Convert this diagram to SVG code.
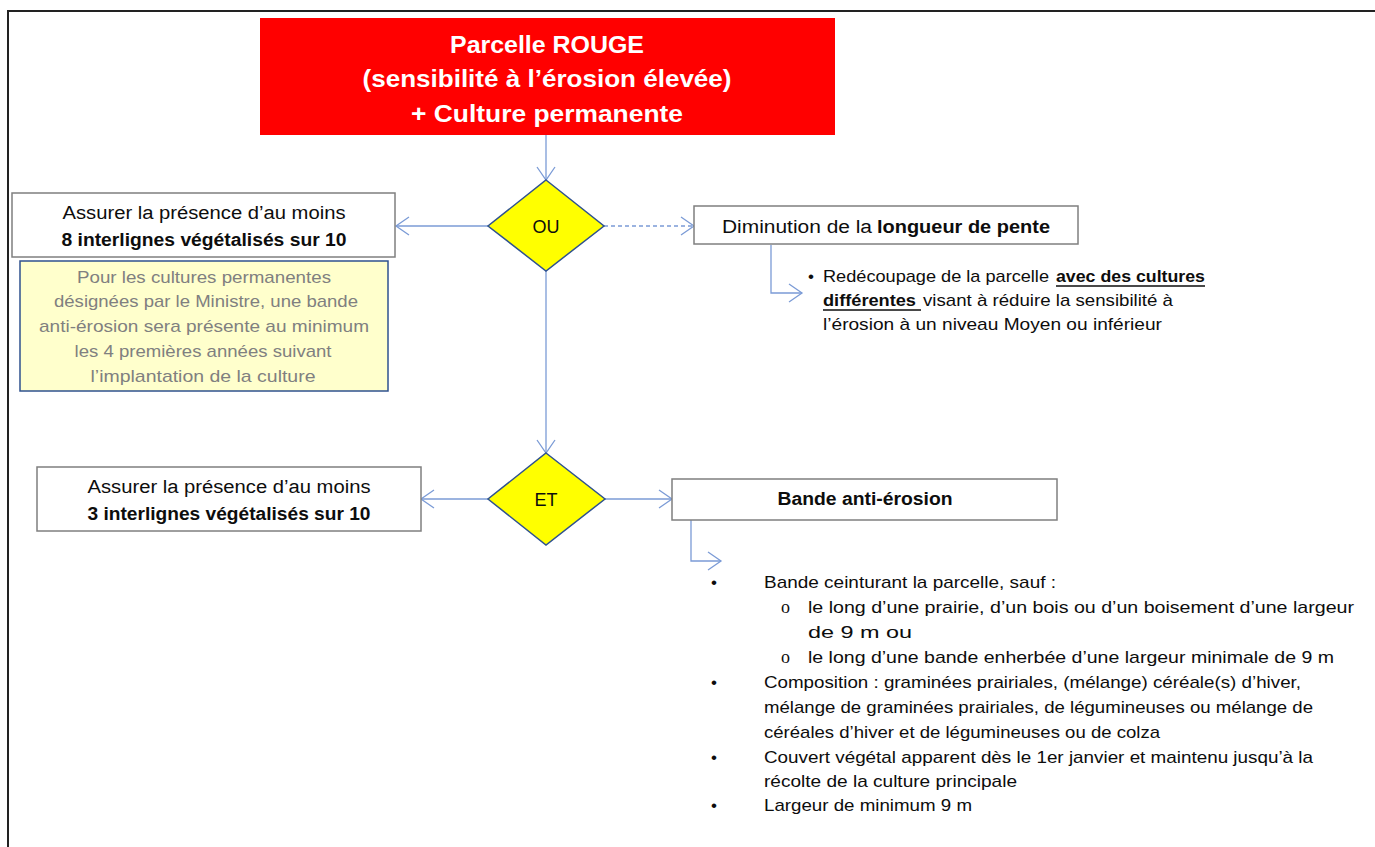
<svg xmlns="http://www.w3.org/2000/svg" width="1375" height="847" viewBox="0 0 1375 847">
<style>
.t{font-family:"Liberation Sans",Arial,sans-serif;fill:#0d0d0d}
.b{font-weight:bold}
.w{fill:#fff}
.box{fill:#fff;stroke:#7f7f7f;stroke-width:1.5}
.dia{fill:#ffff00;stroke:#2f528f;stroke-width:1.5}
.con{fill:none;stroke:#7b9bd6;stroke-width:1.3}
.gray{fill:#808080}
.o{font-family:"Liberation Serif","Times New Roman",serif;fill:#0d0d0d;font-size:18px}
</style>
<defs>
<marker id="ah" markerUnits="userSpaceOnUse" markerWidth="30" markerHeight="30" refX="14" refY="10" orient="auto" viewBox="0 0 30 20">
<path d="M1,1 L14,10 L1,19" fill="none" stroke="#7b9bd6" stroke-width="1.3"/>
</marker>
</defs>
<rect width="1375" height="847" fill="#fff"/>
<g id="frame">
<path d="M8,847 V11 H1375" fill="none" stroke="#222" stroke-width="2"/>
</g>
<g id="connectors">
<path class="con" d="M546,135 V180" marker-end="url(#ah)"/>
<path class="con" d="M488,226 H396" marker-end="url(#ah)"/>
<path class="con" d="M604,226 H694" stroke-dasharray="4,3" marker-end="url(#ah)"/>
<path class="con" d="M771,245 V293 H802" marker-end="url(#ah)"/>
<path class="con" d="M546,271 V453" marker-end="url(#ah)"/>
<path class="con" d="M488,499 H421" marker-end="url(#ah)"/>
<path class="con" d="M604,499 H672" marker-end="url(#ah)"/>
<path class="con" d="M691,520 V561 H721" marker-end="url(#ah)"/>
</g>
<g id="title">
<rect x="260" y="18" width="575" height="117" fill="#ff0000"/>
<text class="t b w" x="547" y="53" font-size="24" style="fill:#fff" text-anchor="middle" textLength="194" lengthAdjust="spacingAndGlyphs">Parcelle ROUGE</text>
<text class="t b w" x="547" y="87" font-size="24" style="fill:#fff" text-anchor="middle" textLength="369" lengthAdjust="spacingAndGlyphs">(sensibilité à l’érosion élevée)</text>
<text class="t b w" x="547" y="122" font-size="24" style="fill:#fff" text-anchor="middle" textLength="272" lengthAdjust="spacingAndGlyphs">+ Culture permanente</text>
</g>
<g id="ou">
<polygon class="dia" points="546,180 604,226 546,271 488,226"/>
<text class="t" x="546" y="233" font-size="18" text-anchor="middle">OU</text>
</g>
<g id="box8">
<rect class="box" x="12" y="193" width="383" height="64"/>
<text class="t" x="204" y="219" font-size="18" text-anchor="middle" textLength="283" lengthAdjust="spacingAndGlyphs">Assurer la présence d’au moins</text>
<text class="t b" x="204" y="246" font-size="18" text-anchor="middle" textLength="285" lengthAdjust="spacingAndGlyphs">8 interlignes végétalisés sur 10</text>
</g>
<g id="note">
<rect x="20" y="261" width="368" height="130" fill="#ffffcc" stroke="#2f528f" stroke-width="1.5"/>
<text class="t gray" x="204" y="283" font-size="17" text-anchor="middle" textLength="254" lengthAdjust="spacingAndGlyphs">Pour les cultures permanentes</text>
<text class="t gray" x="206" y="307" font-size="17" text-anchor="middle" textLength="304" lengthAdjust="spacingAndGlyphs">désignées par le Ministre, une bande</text>
<text class="t gray" x="204" y="332" font-size="17" text-anchor="middle" textLength="330" lengthAdjust="spacingAndGlyphs">anti-érosion sera présente au minimum</text>
<text class="t gray" x="203" y="357" font-size="17" text-anchor="middle" textLength="257" lengthAdjust="spacingAndGlyphs">les 4 premières années suivant</text>
<text class="t gray" x="203" y="382" font-size="17" text-anchor="middle" textLength="225" lengthAdjust="spacingAndGlyphs">l’implantation de la culture</text>
</g>
<g id="diminution">
<rect class="box" x="694" y="206" width="384" height="38"/>
<text class="t" x="722" y="233" font-size="18" textLength="150" lengthAdjust="spacingAndGlyphs">Diminution de la</text>
<text class="t b" x="877" y="233" font-size="18" textLength="173" lengthAdjust="spacingAndGlyphs">longueur de pente</text>
</g>
<g id="redecoupage">
<text class="t" x="808" y="282" font-size="17">•</text>
<text class="t" x="823" y="282" font-size="17" textLength="226" lengthAdjust="spacingAndGlyphs">Redécoupage de la parcelle</text>
<text class="t b" x="1056" y="282" font-size="17" textLength="149" lengthAdjust="spacingAndGlyphs">avec des cultures</text>
<line x1="1056" y1="286" x2="1205" y2="286" stroke="#0d0d0d" stroke-width="1.3"/>
<text class="t b" x="823" y="306" font-size="17" textLength="93" lengthAdjust="spacingAndGlyphs">différentes</text>
<line x1="823" y1="310" x2="921" y2="310" stroke="#0d0d0d" stroke-width="1.3"/>
<text class="t" x="923" y="306" font-size="17" textLength="250" lengthAdjust="spacingAndGlyphs">visant à réduire la sensibilité à</text>
<text class="t" x="823" y="330" font-size="17" textLength="339" lengthAdjust="spacingAndGlyphs">l’érosion à un niveau Moyen ou inférieur</text>
</g>
<g id="et">
<polygon class="dia" points="546,453 605,499 546,545 488,499"/>
<text class="t" x="546" y="506" font-size="18" text-anchor="middle">ET</text>
</g>
<g id="box3">
<rect class="box" x="37" y="467" width="384" height="64"/>
<text class="t" x="229" y="493" font-size="18" text-anchor="middle" textLength="283" lengthAdjust="spacingAndGlyphs">Assurer la présence d’au moins</text>
<text class="t b" x="229" y="520" font-size="18" text-anchor="middle" textLength="283" lengthAdjust="spacingAndGlyphs">3 interlignes végétalisés sur 10</text>
</g>
<g id="bande">
<rect class="box" x="672" y="479" width="385" height="41"/>
<text class="t b" x="865" y="505" font-size="18" text-anchor="middle" textLength="175" lengthAdjust="spacingAndGlyphs">Bande anti-érosion</text>
</g>
<g id="bande-details" font-size="17">
<text class="t" x="711" y="588">•</text>
<text class="t" x="764" y="588" textLength="292" lengthAdjust="spacingAndGlyphs">Bande ceinturant la parcelle, sauf :</text>
<text class="o" x="781" y="613">o</text>
<text class="t" x="808" y="613" textLength="546" lengthAdjust="spacingAndGlyphs">le long d’une prairie, d’un bois ou d’un boisement d’une largeur</text>
<text class="t" x="808" y="638" textLength="104" lengthAdjust="spacingAndGlyphs">de 9 m ou</text>
<text class="o" x="781" y="663">o</text>
<text class="t" x="808" y="663" textLength="526" lengthAdjust="spacingAndGlyphs">le long d’une bande enherbée d’une largeur minimale de 9 m</text>
<text class="t" x="711" y="688">•</text>
<text class="t" x="764" y="688" textLength="537" lengthAdjust="spacingAndGlyphs">Composition : graminées prairiales, (mélange) céréale(s) d’hiver,</text>
<text class="t" x="764" y="713" textLength="549" lengthAdjust="spacingAndGlyphs">mélange de graminées prairiales, de légumineuses ou mélange de</text>
<text class="t" x="764" y="738" textLength="396" lengthAdjust="spacingAndGlyphs">céréales d’hiver et de légumineuses ou de colza</text>
<text class="t" x="711" y="763">•</text>
<text class="t" x="764" y="763" textLength="549" lengthAdjust="spacingAndGlyphs">Couvert végétal apparent dès le 1er janvier et maintenu jusqu’à la</text>
<text class="t" x="764" y="787" textLength="253" lengthAdjust="spacingAndGlyphs">récolte de la culture principale</text>
<text class="t" x="711" y="811">•</text>
<text class="t" x="764" y="811" textLength="208" lengthAdjust="spacingAndGlyphs">Largeur de minimum 9 m</text>
</g>
</svg>
